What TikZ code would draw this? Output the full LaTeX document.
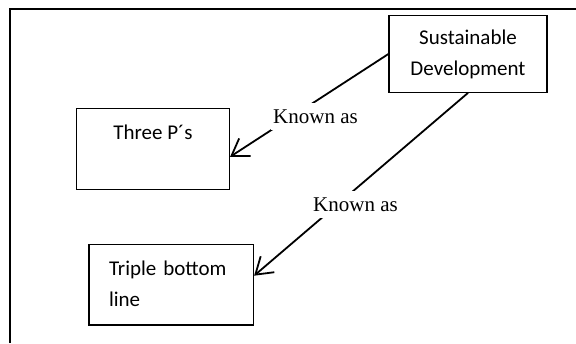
\documentclass[tikz,border=0pt]{standalone}
\usepackage{fontspec}
\usetikzlibrary{arrows.meta,positioning}
\newfontfamily\carlito{Carlito}
\newfontfamily\libserif{Liberation Serif}
\newcommand{\boxfont}{\carlito\fontsize{21}{31}\selectfont}
\newcommand{\labelfont}{\libserif\fontsize{21}{25}\selectfont}

\begin{document}
\begin{tikzpicture}[
    x=1pt, y=-1pt,
    box/.style={rectangle, draw, line width=1.2pt, inner sep=0pt, font=\boxfont},
    arrow/.style={-{Straight Barb[length=16pt, width=21pt]}, line width=1.8pt},
    knownlabel/.style={fill=white, inner xsep=2pt, inner ysep=6.5pt, font=\labelfont, anchor=base}
]
    \useasboundingbox (0,0) rectangle (576,343);
    % frame
    \draw[line width=2.2pt] (10,343) -- (10,9) -- (576,9);

    \node[box, minimum width=158pt, minimum height=76.6pt, align=center] (sd) at (468,54)
        {\strut Sustainable\\\strut Development};
    \node[box, minimum width=153pt, minimum height=81pt, align=center] (threep) at (153,148.8)
        {\strut Three P´s\\\strut};
    \node[box, minimum height=80.7pt, text width=124.5pt, inner xsep=20pt, align=left] (tbl) at (171.25,284.7)
        {\strut Triple bottom\\\strut line};

    \draw[arrow] (sd.west) -- ([yshift=-8pt]threep.east);
    \draw[arrow] (sd.south) -- ([yshift=9pt]tbl.east);

    \node[knownlabel] (known1) at (315.5,123) {Known as};
    \node[knownlabel] (known2) at (355.5,211.7) {Known as};
\end{tikzpicture}
\end{document}
